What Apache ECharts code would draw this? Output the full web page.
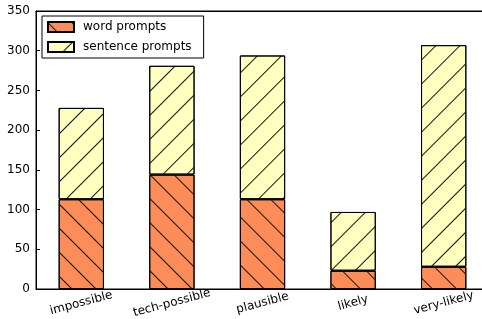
<!DOCTYPE html>
<html>
<head>
<meta charset="utf-8">
<script src="https://cdn.jsdelivr.net/npm/echarts@6/dist/echarts.min.js"></script>
<style>
html, body { margin: 0; padding: 0; background: #fff; }
#chart { width: 482px; height: 319px; }
</style>
</head>
<body>
<div id="chart"></div>
<script>
const categories = ['impossible', 'tech-possible', 'plausible', 'likely', 'very-likely']
const wordPrompts = [113, 144, 113, 23, 28]
const sentencePrompts = [115, 137, 181, 74, 279]
const yTicks = [0, 50, 100, 150, 200, 250, 300, 350]

const font = 'DejaVu Sans'

// hatch patterns
const hatch = (rot) => ({
	symbol: 'rect',
	symbolSize: 1,
	dashArrayX: [1, 0],
	dashArrayY: [1, 16],
	rotation: rot,
	color: '#111'
})

const chart = echarts.init(document.getElementById('chart'))

const option = {
	animation: false,
	grid: {
		left: 36,
		top: 11,
		width: 453,
		bottom: 30,
		containLabel: false,
		outerBoundsMode: 'none',
		show: true,
		borderColor: '#000',
		borderWidth: 1
	},
	legend: {
		orient: 'vertical',
		left: 42,
		top: 16,
		padding: [5, 12, 5, 5],
		itemGap: 8,
		itemWidth: 26,
		itemHeight: 10,
		icon: 'rect',
		borderColor: '#000',
		borderWidth: 1,
		textStyle: { fontFamily: font, fontSize: 12, color: '#000', padding: [0, 0, 0, 4] },
		data: ['word prompts', 'sentence prompts']
	},
	xAxis: [
		{
			type: 'category',
			data: categories,
			axisLine: { lineStyle: { color: '#000' } },
			axisTick: { inside: true, length: 4, alignWithLabel: true, lineStyle: { color: '#000' } },
			axisLabel: {
				interval: 0,
				rotate: 15,
				align: 'center',
				margin: 14,
				fontFamily: font,
				fontSize: 12,
				color: '#000'
			}
		},
		{
			type: 'category',
			position: 'top',
			data: categories,
			axisLine: { lineStyle: { color: '#000' } },
			axisTick: { inside: true, length: 4, alignWithLabel: true, lineStyle: { color: '#000' } },
			axisLabel: { show: false }
		}
	],
	yAxis: {
		type: 'value',
		min: 0,
		max: 350,
		interval: 50,
		splitLine: { show: false },
		axisLine: { show: true, lineStyle: { color: '#000' } },
		axisTick: { show: true, inside: true, length: 4, lineStyle: { color: '#000' } },
		axisLabel: { fontFamily: font, fontSize: 12, color: '#000', margin: 6 }
	},
	series: [
		{
			name: 'word prompts',
			type: 'bar',
			stack: 'total',
			barWidth: '50%',
			itemStyle: {
				color: '#fc8d59',
				borderColor: '#000',
				borderWidth: 1,
				decal: hatch(Math.PI / 4)
			},
			data: wordPrompts
		},
		{
			name: 'sentence prompts',
			type: 'bar',
			stack: 'total',
			barWidth: '50%',
			itemStyle: {
				color: '#ffffbf',
				borderColor: '#000',
				borderWidth: 1,
				decal: hatch(-Math.PI / 4)
			},
			data: sentencePrompts
		}
	]
}

chart.setOption(option)
</script>
</body>
</html>
